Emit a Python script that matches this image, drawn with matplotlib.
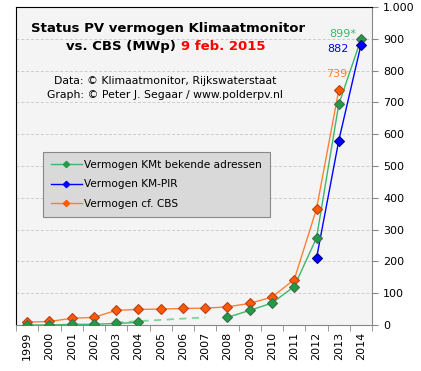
import numpy as np
import matplotlib.pyplot as plt
from matplotlib.lines import Line2D
from matplotlib.ticker import FuncFormatter

plt.rcParams['font.family'] = ['DejaVu Sans']

years = [str(y) for y in range(1999, 2015)]
# Vermogen KMt bekende adressen (gaps 2005-2007 bridged by dashed line)
kmt = [0, 0, 2, 2, 5, 8, np.nan, np.nan, np.nan, 24, 46, 69, 121, 274, 694, 899]
kmt_gap_x = [5, 9]
kmt_gap_y = [8, 24]
# Vermogen KM-PIR
pir = [np.nan] * 13 + [210, 580, 882]
# Vermogen cf. CBS
cbs = [9, 11, 21, 24, 46, 49, 50, 52, 53, 57, 68, 88, 143, 365, 739, np.nan]

x = np.arange(1, len(years) + 1)

fig = plt.figure(figsize=(4.21, 3.71), dpi=100)
ax = fig.add_axes([0.038, 0.124, 0.846, 0.857])
ax.set_facecolor('#f4f4f4')

green_l, green_m = '#3cb86a', '#239a48'
orange_l, orange_m = '#ff8033', '#ff5a00'
blue = '#0000ff'

ax.plot(kmt_gap_x, kmt_gap_y, color='#7fd49a', lw=1.3, ls=(0, (4, 3)), zorder=2)
ax.plot(x, cbs, color=orange_l, lw=1, zorder=3)
ax.plot(x, cbs, ls='none', marker='D', ms=5.6, mfc=orange_m, mec='#b8401a', mew=0.8, zorder=4)
ax.plot(x, kmt, color=green_l, lw=1, zorder=3)
ax.plot(x, kmt, ls='none', marker='D', ms=5.6, mfc=green_m, mec='#3f6e4a', mew=0.8, zorder=4)
ax.plot(x, pir, color=blue, lw=1, zorder=3)
ax.plot(x, pir, ls='none', marker='D', ms=5.6, mfc=blue, mec='#00008b', mew=0.8, zorder=5)

ax.set_xlim(0.5, len(years) + 0.5)
ax.set_ylim(0, 1000)
ax.yaxis.tick_right()
ax.set_yticks(range(0, 1001, 100))
ax.yaxis.set_major_formatter(FuncFormatter(lambda v, p: '1.000' if v == 1000 else '%d' % v))
ax.grid(axis='y', color='#cccccc', ls=(0, (3, 2)), lw=0.7)
ax.set_axisbelow(True)

ax.set_xticks(x)
ax.set_xticklabels(years, rotation=90, fontsize=8)
ax.set_xticks(np.arange(0.5, len(years) + 1), minor=True)
ax.tick_params(axis='x', which='major', length=0, pad=5)
ax.tick_params(axis='x', which='minor', length=4, color='#888888')
ax.tick_params(axis='y', length=4, color='#888888', labelsize=8, pad=4)

ax.spines['left'].set_color('black')
ax.spines['top'].set_color('black')
ax.spines['right'].set_color('#888888')
ax.spines['bottom'].set_color('#888888')

ax.text(0.427, 0.931, 'Status PV vermogen Klimaatmonitor', transform=ax.transAxes,
        ha='center', va='center', fontsize=9.5, fontweight='bold')
ax.text(0.463, 0.877, 'vs. CBS (MWp) ', transform=ax.transAxes,
        ha='right', va='center', fontsize=9.5, fontweight='bold')
ax.text(0.463, 0.877, '9 feb. 2015', transform=ax.transAxes,
        ha='left', va='center', fontsize=9.5, fontweight='bold', color='red')
ax.text(0.418, 0.767, 'Data: \u00a9 Klimaatmonitor, Rijkswaterstaat', transform=ax.transAxes,
        ha='center', va='center', fontsize=7.8)
ax.text(0.418, 0.723, 'Graph: \u00a9 Peter J. Segaar / www.polderpv.nl', transform=ax.transAxes,
        ha='center', va='center', fontsize=7.8)

ax.text(15.78, 915, '899*', color='#3cb86a', ha='right', va='center', fontsize=8)
ax.text(15.46, 868, '882', color=blue, ha='right', va='center', fontsize=8)
ax.text(14.9, 789, '739', color='#ff8033', ha='center', va='center', fontsize=8)

handles = [
    Line2D([], [], color=green_l, lw=1, marker='D', ms=3.2, mfc=green_m, mec=green_m),
    Line2D([], [], color=blue, lw=1, marker='D', ms=3.2, mfc=blue, mec=blue),
    Line2D([], [], color=orange_l, lw=1, marker='D', ms=3.2, mfc=orange_m, mec=orange_m),
]
leg = ax.legend(handles, ['Vermogen KMt bekende adressen', 'Vermogen KM-PIR', 'Vermogen cf. CBS'],
                loc='upper left', bbox_to_anchor=(0.076, 0.544), borderaxespad=0,
                fontsize=7.6, frameon=True, fancybox=False, framealpha=1,
                facecolor='#d9d9d9', edgecolor='#888888', handlelength=2.9,
                handletextpad=0.25, labelspacing=0.9, borderpad=0.75)
leg.get_frame().set_linewidth(0.8)

fig.savefig('out.png', dpi=100)
